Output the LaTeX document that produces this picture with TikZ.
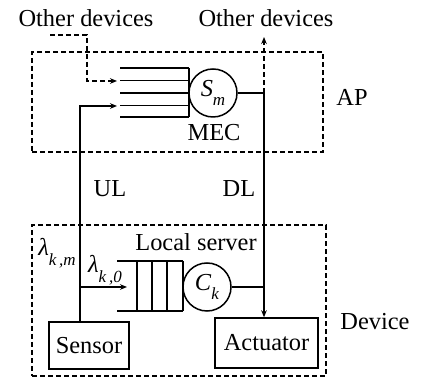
\documentclass[tikz,border=0pt]{standalone}
\usepackage{fontspec}
\setmainfont{Liberation Serif}
\usetikzlibrary{arrows.meta}
\newcommand{\mysub}[2]{\textit{#1}\raisebox{-0.4em}{\fontsize{8.5}{9}\selectfont\textit{#2}}}
\begin{document}
\begin{tikzpicture}[x=0.5pt,y=-0.5pt,
  every node/.style={font=\fontsize{12.2}{14}\selectfont, inner sep=0pt},
  line/.style={line width=0.75pt},
  dashline/.style={line width=0.75pt, dash pattern=on 2.5pt off 1.5pt},
  arr/.style={-{Stealth[length=3.5pt,width=2.8pt]}},
  dashbox/.style={draw, line width=0.75pt, dash pattern=on 2.5pt off 1.5pt, rectangle, inner sep=0pt},
  solidbox/.style={draw, line width=0.75pt, rectangle, inner sep=0pt},
  server/.style={draw, line width=0.75pt, circle, minimum size=24pt, inner sep=0pt}]
\useasboundingbox (0,0) rectangle (422,378);
% boxes
\node[dashbox, minimum width=145.5pt, minimum height=50pt] (ap) at (177.5,102) {};
\node[dashbox, minimum width=147pt, minimum height=75.5pt] (dev) at (179,300.5) {};
\node[solidbox, minimum width=40pt, minimum height=23.5pt] (sensor) at (89,345.5) {Sensor};
\node[solidbox, minimum width=51.5pt, minimum height=25pt] (act) at (266.5,343) {Actuator};
\node[server] (sm) at (213,93) {\mysub{S}{m}};
\node[server] (ck) at (207,287) {\mysub{C}{k}};
% labels
\node (od1) at (86,18) {Other devices};
\node (od2) at (266,18) {Other devices};
\node (aplab) at (352,97) {AP};
\node (mec) at (214,133) {MEC};
\node (ul) at (110,189) {UL};
\node (dl) at (239,189) {DL};
\node (lkm) at (57,253) {\mysub{λ}{k\,,m}};
\node (lk0) at (105,270) {\mysub{λ}{k\,,0}};
\node (ls) at (196,242) {Local server};
\node (devlab) at (375,322) {Device};
% MEC queue
\foreach \yy in {68,80.5,93,105.5,117} \draw[line] (120,\yy) -- (189,\yy);
\draw[line] (189,68) -- (189,117);
% local queue
\draw[line] (117,261) -- (183,261);
\draw[line] (117,311) -- (183,311);
\foreach \xx in {137,152,167,183} \draw[line] (\xx,261) -- (\xx,311);
% coordinates
\coordinate (ulx) at (80,0);
\coordinate (dlx) at (264,0);
\coordinate (mecin1) at (117,81);
\coordinate (mecin2) at (117,106);
\coordinate (locin) at (127,287);
\coordinate (odstart) at (50,35);
\coordinate (odout) at (264,37);
% connectors
\draw[line, arr] (sensor.north -| ulx) |- (mecin2);
\draw[line, arr] (ulx |- locin) -- (locin);
\draw[line] (sm.east) -- (sm.east -| dlx);
\draw[line, arr] (sm.east -| dlx) -- (act.north -| dlx);
\draw[line] (ck.east) -- (ck.east -| dlx);
\draw[dashline, arr] (sm.east -| dlx) -- (odout);
\draw[dashline, arr] (odstart) -- (87,35) |- (mecin1);
\end{tikzpicture}
\end{document}
